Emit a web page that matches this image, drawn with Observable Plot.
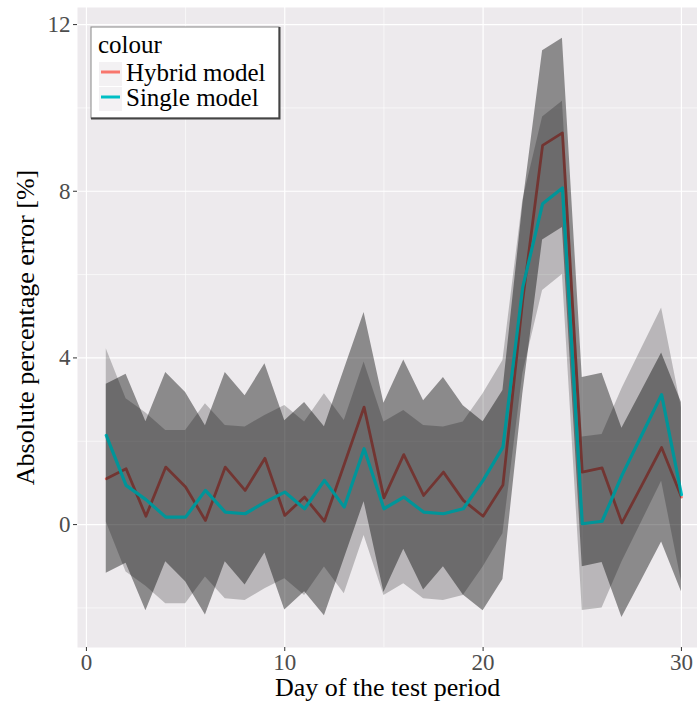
<!DOCTYPE html>
<html>
<head>
<meta charset="utf-8">
<script src="https://cdn.jsdelivr.net/npm/d3@7"></script>
<script src="https://cdn.jsdelivr.net/npm/@observablehq/plot@0.6"></script>
<style>
  html, body { margin: 0; padding: 0; background: #fff; overflow: hidden; }
  #wrap { position: relative; width: 697px; height: 706px; }
  #legend { position: absolute; left: 90px; top: 26px; }
</style>
</head>
<body>
<div id="wrap"></div>
<script>
// ---- data ----
const days = [1,2,3,4,5,6,7,8,9,10,11,12,13,14,15,16,17,18,19,20,21,22,23,24,25,26,27,28,29,30];

const hybrid   = [1.10,1.34,0.20,1.38,0.90,0.10,1.38,0.82,1.59,0.22,0.66,0.08,1.45,2.82,0.64,1.68,0.70,1.26,0.58,0.20,0.95,5.40,9.10,9.40,1.26,1.36,0.04,0.94,1.85,0.66];
const hybridHi = [3.37,3.61,2.47,3.65,3.17,2.37,3.65,3.09,3.86,2.49,2.93,2.35,3.72,5.09,2.91,3.95,2.97,3.53,2.85,2.47,3.22,7.67,11.37,11.67,3.53,3.63,2.31,3.21,4.12,2.93];
const hybridLo = [-1.17,-0.93,-2.07,-0.89,-1.37,-2.17,-0.89,-1.45,-0.68,-2.05,-1.61,-2.19,-0.82,0.55,-1.63,-0.59,-1.57,-1.01,-1.69,-2.07,-1.32,3.13,6.83,7.13,-1.01,-0.91,-2.23,-1.33,-0.42,-1.61];

const single   = [2.14,0.94,0.60,0.18,0.18,0.82,0.30,0.26,0.54,0.78,0.38,1.06,0.42,1.82,0.38,0.66,0.30,0.26,0.38,1.06,1.86,5.70,7.70,8.08,0.02,0.08,1.18,2.15,3.12,0.72];
const singleHi = [4.22,3.02,2.68,2.26,2.26,2.90,2.38,2.34,2.62,2.86,2.46,3.14,2.50,3.90,2.46,2.74,2.38,2.34,2.46,3.14,3.94,7.78,9.78,10.16,2.10,2.16,3.26,4.23,5.20,2.80];
const singleLo = [0.06,-1.14,-1.48,-1.90,-1.90,-1.26,-1.78,-1.82,-1.54,-1.30,-1.70,-1.02,-1.66,-0.26,-1.70,-1.42,-1.78,-1.82,-1.70,-1.02,-0.22,3.62,5.62,6.00,-2.06,-2.00,-0.90,0.07,1.04,-1.36];

const xTicks = [0,10,20,30];
const xMinor = [5,15,25];
const yTicks = [0,4,8,12];
const yMinor = [-2,2,6,10];

const seriesNames = ["Hybrid model","Single model"];
const seriesColors = ["#F8766D","#00BFC4"];
const xTitle = "Day of the test period";
const yTitle = "Absolute percentage error [%]";
const legendTitle = "colour";

// ---- tables ----
const hybridRows = days.map((d,i) => ({day:d, v:hybrid[i], lo:hybridLo[i], hi:hybridHi[i]}));
const singleRows = days.map((d,i) => ({day:d, v:single[i], lo:singleLo[i], hi:singleHi[i]}));

const font = "Liberation Serif";

const chart = Plot.plot({
  width: 697,
  height: 706,
  marginLeft: 77,
  marginRight: 0,
  marginTop: 7,
  marginBottom: 59,
  x: {domain: [-0.45, 30.81]},
  y: {domain: [-2.95, 12.41]},
  style: {fontFamily: font, background: "#fff", overflow: "hidden"},
  marks: [
    Plot.frame({fill: "#EDEAED", stroke: null}),
    Plot.ruleX(xMinor, {stroke: "#fff", strokeWidth: 0.6}),
    Plot.ruleY(yMinor, {stroke: "#fff", strokeWidth: 0.6}),
    Plot.ruleX(xTicks, {stroke: "#fff", strokeWidth: 1.2}),
    Plot.ruleY(yTicks, {stroke: "#fff", strokeWidth: 1.2}),
    Plot.lineY(hybridRows, {x: "day", y: "v", stroke: seriesColors[0], strokeWidth: 2.8}),
    Plot.areaY(hybridRows, {x: "day", y1: "lo", y2: "hi", fill: "#000", fillOpacity: 0.41}),
    Plot.lineY(singleRows, {x: "day", y: "v", stroke: seriesColors[1], strokeWidth: 3.2}),
    Plot.areaY(singleRows, {x: "day", y1: "lo", y2: "hi", fill: "#000", fillOpacity: 0.22}),
    Plot.axisX(xTicks, {tickSize: 4, tickPadding: 2, fontSize: 23, fill: "#4D4D4D", stroke: "#333", label: null, fontFamily: font}),
    Plot.axisY(yTicks, {tickSize: 4, tickPadding: 3, fontSize: 23, fill: "#4D4D4D", stroke: "#333", label: null, fontFamily: font}),
    Plot.text([xTitle], {frameAnchor: "bottom", dy: 40, fontSize: 26, fill: "#000", lineAnchor: "middle", textAnchor: "middle", fontFamily: font}),
    Plot.text([yTitle], {frameAnchor: "left", dx: -52, rotate: -90, fontSize: 26, fill: "#000", textAnchor: "middle", lineAnchor: "middle", fontFamily: font})
  ]
});

const wrap = document.getElementById("wrap");
wrap.appendChild(chart);

// ---- legend (inside the panel, top-left) ----
const lg = d3.create("svg")
  .attr("id", "legend")
  .attr("width", 191).attr("height", 94)
  .attr("font-family", font);
lg.append("rect").attr("x", 1).attr("y", 1).attr("width", 188).attr("height", 91)
  .attr("fill", "#fff").attr("stroke", "#888").attr("stroke-width", 1);
lg.append("path").attr("d", "M189.5,1 V92.5 H1").attr("fill", "none").attr("stroke", "#444").attr("stroke-width", 2);
lg.append("text").attr("x", 8).attr("y", 27).attr("font-size", 25).attr("fill", "#000").text(legendTitle);
seriesNames.forEach((name, i) => {
  const top = 36 + i * 25;
  lg.append("rect").attr("x", 9).attr("y", top).attr("width", 23).attr("height", 24).attr("fill", "#F3F1F3");
  lg.append("line").attr("x1", 11).attr("x2", 30).attr("y1", top + 10).attr("y2", top + 10)
    .attr("stroke", seriesColors[i]).attr("stroke-width", 3);
  lg.append("text").attr("x", 36).attr("y", top + 19).attr("font-size", 25).attr("fill", "#000").text(name);
});
wrap.appendChild(lg.node());
</script>
</body>
</html>
